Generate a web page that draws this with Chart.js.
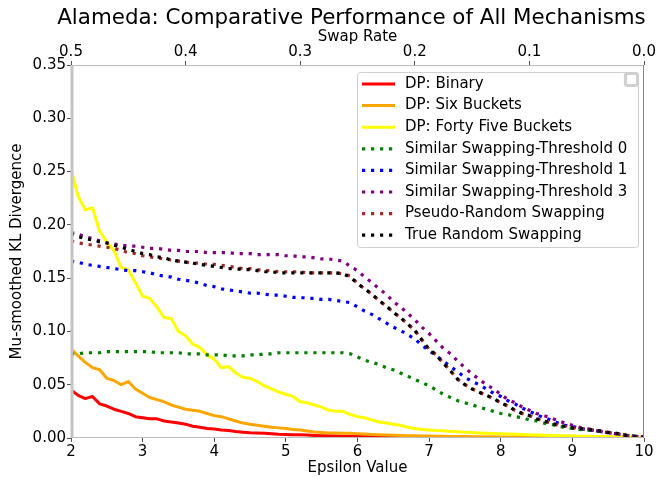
<!DOCTYPE html>
<html>
<head>
<meta charset="utf-8">
<script src="https://cdn.jsdelivr.net/npm/chart.js@4.4.1/dist/chart.umd.min.js"></script>
<style>
  html, body { margin: 0; padding: 0; background: #ffffff; }
  #wrap { width: 660px; height: 478px; }
</style>
</head>
<body>
<div id="wrap"><canvas id="chart" width="660" height="478"></canvas></div>
<script>
// Epsilon grid shared by every series
const epsilon = [
  2.0, 2.1, 2.2, 2.3, 2.4, 2.5, 2.6, 2.7, 2.8, 2.9,
  3.0, 3.1, 3.2, 3.3, 3.4, 3.5, 3.6, 3.7, 3.8, 3.9,
  4.0, 4.1, 4.2, 4.3, 4.4, 4.5, 4.6, 4.7, 4.8, 4.9,
  5.0, 5.1, 5.2, 5.3, 5.4, 5.5, 5.6, 5.7, 5.8, 5.9,
  6.0, 6.1, 6.2, 6.3, 6.4, 6.5, 6.6, 6.7, 6.8, 6.9,
  7.0, 7.1, 7.2, 7.3, 7.4, 7.5, 7.6, 7.7, 7.8, 7.9,
  8.0, 8.1, 8.2, 8.3, 8.4, 8.5, 8.6, 8.7, 8.8, 8.9,
  9.0, 9.1, 9.2, 9.3, 9.4, 9.5, 9.6, 9.7, 9.8, 9.9,
  10.0
];

const dpBinary = [
  0.045, 0.040, 0.037, 0.039, 0.032, 0.030, 0.027, 0.025, 0.023, 0.020,
  0.019, 0.018, 0.018, 0.016, 0.015, 0.014, 0.013, 0.011, 0.010, 0.009,
  0.0085, 0.0075, 0.007, 0.006, 0.0055, 0.005, 0.0047, 0.0045, 0.004, 0.0035,
  0.0032, 0.003, 0.003, 0.0027, 0.0024, 0.0022, 0.002, 0.0018, 0.0016, 0.0015,
  0.0013, 0.0012, 0.0011, 0.001, 0.0009, 0.0008, 0.0007, 0.0007, 0.0006, 0.0006,
  0.0005, 0.0005, 0.0004, 0.0004, 0.0004, 0.0003, 0.0003, 0.0003, 0.0003, 0.0003,
  0.0003, 0.0002, 0.0002, 0.0002, 0.0002, 0.0002, 0.0002, 0.0002, 0.0002, 0.0002,
  0.0002, 0.0001, 0.0001, 0.0001, 0.0001, 0.0001, 0.0001, 0.0001, 0.0001, 0.0001,
  0.0001
];

const dpSixBuckets = [
  0.084, 0.077, 0.071, 0.066, 0.064, 0.056, 0.054, 0.050, 0.053, 0.046,
  0.042, 0.038, 0.036, 0.034, 0.031, 0.029, 0.027, 0.026, 0.025, 0.023,
  0.021, 0.020, 0.018, 0.016, 0.014, 0.013, 0.012, 0.011, 0.010, 0.0095,
  0.009, 0.008, 0.0075, 0.0065, 0.0056, 0.0052, 0.0048, 0.0046, 0.0045, 0.0044,
  0.004, 0.0037, 0.0034, 0.0031, 0.0028, 0.0026, 0.0024, 0.0022, 0.002, 0.0019,
  0.0018, 0.0017, 0.0016, 0.0015, 0.0014, 0.0013, 0.0012, 0.0012, 0.0011, 0.0011,
  0.001, 0.001, 0.0009, 0.0009, 0.0008, 0.0008, 0.0008, 0.0007, 0.0007, 0.0007,
  0.0006, 0.0006, 0.0006, 0.0005, 0.0005, 0.0005, 0.0005, 0.0004, 0.0004, 0.0004,
  0.0004
];

const dpFortyFiveBuckets = [
  0.252, 0.227, 0.214, 0.216, 0.194, 0.184, 0.176, 0.160, 0.158, 0.146,
  0.133, 0.131, 0.123, 0.113, 0.112, 0.100, 0.096, 0.088, 0.085, 0.078,
  0.074, 0.066, 0.067, 0.061, 0.057, 0.056, 0.053, 0.049, 0.046, 0.043,
  0.041, 0.039, 0.034, 0.033, 0.031, 0.029, 0.026, 0.025, 0.025, 0.022,
  0.020, 0.019, 0.017, 0.015, 0.014, 0.013, 0.012, 0.010, 0.009, 0.008,
  0.0075, 0.007, 0.0067, 0.0062, 0.0058, 0.0055, 0.0052, 0.0048, 0.0045, 0.0042,
  0.004, 0.0037, 0.0035, 0.0032, 0.003, 0.0028, 0.0026, 0.0024, 0.0022, 0.002,
  0.0019, 0.0017, 0.0016, 0.0015, 0.0014, 0.0013, 0.0012, 0.0011, 0.001, 0.0009,
  0.0008
];

const similarThreshold0 = [
  0.079, 0.079, 0.080, 0.080, 0.080, 0.081, 0.081, 0.081, 0.081, 0.081,
  0.081, 0.081, 0.080, 0.080, 0.080, 0.080, 0.079, 0.079, 0.079, 0.078,
  0.078, 0.078, 0.077, 0.077, 0.077, 0.078, 0.078, 0.079, 0.079, 0.080,
  0.080, 0.080, 0.080, 0.080, 0.080, 0.080, 0.080, 0.080, 0.080, 0.079,
  0.076, 0.073, 0.071, 0.069, 0.066, 0.064, 0.061, 0.058, 0.055, 0.052,
  0.049, 0.045, 0.041, 0.038, 0.035, 0.033, 0.031, 0.029, 0.027, 0.025,
  0.023, 0.022, 0.020, 0.019, 0.017, 0.016, 0.014, 0.013, 0.011, 0.010,
  0.009, 0.008, 0.0075, 0.0068, 0.006, 0.005, 0.0042, 0.0033, 0.0025, 0.0017,
  0.001
];

const similarThreshold1 = [
  0.166, 0.165, 0.163, 0.162, 0.161, 0.160, 0.159, 0.158, 0.157, 0.157,
  0.156, 0.155, 0.153, 0.152, 0.151, 0.149, 0.148, 0.147, 0.145, 0.143,
  0.142, 0.140, 0.139, 0.138, 0.137, 0.136, 0.136, 0.135, 0.134, 0.134,
  0.133, 0.132, 0.132, 0.131, 0.131, 0.130, 0.130, 0.129, 0.128, 0.127,
  0.123, 0.119, 0.116, 0.112, 0.108, 0.104, 0.101, 0.097, 0.093, 0.087,
  0.082, 0.077, 0.072, 0.067, 0.062, 0.057, 0.053, 0.050, 0.046, 0.042,
  0.039, 0.035, 0.032, 0.028, 0.025, 0.022, 0.019, 0.017, 0.014, 0.012,
  0.011, 0.009, 0.008, 0.007, 0.006, 0.005, 0.004, 0.003, 0.002, 0.0015,
  0.001
];

const similarThreshold3 = [
  0.193, 0.191, 0.189, 0.187, 0.185, 0.183, 0.182, 0.181, 0.180, 0.180,
  0.179, 0.178, 0.178, 0.177, 0.176, 0.176, 0.175, 0.175, 0.175, 0.174,
  0.174, 0.174, 0.174, 0.173, 0.173, 0.173, 0.172, 0.172, 0.172, 0.172,
  0.171, 0.171, 0.170, 0.170, 0.169, 0.168, 0.168, 0.167, 0.166, 0.161,
  0.157, 0.151, 0.146, 0.140, 0.135, 0.128, 0.123, 0.117, 0.111, 0.104,
  0.098, 0.091, 0.084, 0.079, 0.072, 0.066, 0.060, 0.055, 0.050, 0.046,
  0.041, 0.036, 0.033, 0.029, 0.026, 0.023, 0.021, 0.019, 0.016, 0.014,
  0.012, 0.010, 0.009, 0.0075, 0.006, 0.005, 0.004, 0.003, 0.002, 0.0012,
  0.0008
];

const pseudoRandomSwapping = [
  0.185, 0.183, 0.182, 0.181, 0.180, 0.179, 0.178, 0.176, 0.174, 0.173,
  0.171, 0.170, 0.169, 0.168, 0.167, 0.166, 0.165, 0.164, 0.164, 0.163,
  0.163, 0.162, 0.161, 0.160, 0.159, 0.159, 0.158, 0.157, 0.157, 0.156,
  0.156, 0.156, 0.156, 0.155, 0.155, 0.155, 0.155, 0.155, 0.154, 0.152,
  0.145, 0.140, 0.135, 0.129, 0.124, 0.118, 0.113, 0.107, 0.101, 0.092,
  0.083, 0.078, 0.070, 0.063, 0.055, 0.050, 0.046, 0.043, 0.040, 0.037,
  0.033, 0.030, 0.026, 0.023, 0.021, 0.018, 0.016, 0.014, 0.012, 0.011,
  0.0095, 0.0088, 0.008, 0.0075, 0.0065, 0.0052, 0.0047, 0.003, 0.002, 0.0012,
  0.0008
];

const trueRandomSwapping = [
  0.192, 0.189, 0.187, 0.186, 0.184, 0.183, 0.181, 0.179, 0.177, 0.175,
  0.173, 0.172, 0.170, 0.169, 0.167, 0.166, 0.165, 0.164, 0.163, 0.162,
  0.161, 0.160, 0.159, 0.159, 0.158, 0.158, 0.157, 0.156, 0.156, 0.155,
  0.155, 0.155, 0.155, 0.155, 0.155, 0.155, 0.155, 0.155, 0.154, 0.151,
  0.145, 0.140, 0.135, 0.129, 0.124, 0.118, 0.113, 0.107, 0.101, 0.092,
  0.083, 0.078, 0.070, 0.063, 0.055, 0.050, 0.046, 0.043, 0.040, 0.037,
  0.033, 0.030, 0.026, 0.023, 0.021, 0.018, 0.016, 0.014, 0.012, 0.011,
  0.0095, 0.0088, 0.008, 0.0075, 0.0065, 0.0052, 0.0047, 0.003, 0.002, 0.0012,
  0.0008
];

// Tick values
const epsilonTicks = [2, 3, 4, 5, 6, 7, 8, 9, 10];
const swapRateTicks = [0.5, 0.4, 0.3, 0.2, 0.1, 0.0];
const divergenceTicks = [0.00, 0.05, 0.10, 0.15, 0.20, 0.25, 0.30, 0.35];

const chartTitle = 'Alameda: Comparative Performance of All Mechanisms';
const seriesNames = [
  'DP: Binary', 'DP: Six Buckets', 'DP: Forty Five Buckets',
  'Similar Swapping-Threshold 0', 'Similar Swapping-Threshold 1',
  'Similar Swapping-Threshold 3', 'Pseudo-Random Swapping', 'True Random Swapping'
];
const seriesValues = [
  dpBinary, dpSixBuckets, dpFortyFiveBuckets,
  similarThreshold0, similarThreshold1, similarThreshold3,
  pseudoRandomSwapping, trueRandomSwapping
];
const seriesColors = ['#ff0000', '#ffa500', '#ffff00', '#008000', '#0000ff', '#800080', '#a52a2a', '#000000'];
const seriesDotted = [false, false, false, true, true, true, true, true];

const FONT = 'DejaVu Sans';
const DOT = [3.2, 5.8];

const datasets = seriesNames.map((name, i) => ({
  label: name,
  data: epsilon.map((e, k) => ({ x: e, y: seriesValues[i][k] })),
  borderColor: seriesColors[i],
  backgroundColor: seriesColors[i],
  borderWidth: seriesDotted[i] ? 3.2 : 3,
  borderDash: seriesDotted[i] ? DOT : [],
  borderCapStyle: 'butt',
  borderJoinStyle: 'round',
  pointRadius: 0,
  tension: 0,
  fill: false,
  order: seriesNames.length - i,
  xAxisID: 'x',
  yAxisID: 'y'
}));

// Axes frame, heading, and the boxed legend in the upper right of the plot
const framePlugin = {
  id: 'frame',
  afterDatasetsDraw(chart) {
    const { ctx, chartArea: a } = chart;
    ctx.save();
    ctx.lineCap = 'butt';
    ctx.strokeStyle = '#bdbdbd';
    ctx.lineWidth = 1;
    ctx.beginPath();
    ctx.moveTo(a.left, a.top + 0.5); ctx.lineTo(a.right, a.top + 0.5);
    ctx.moveTo(a.left, a.bottom - 0.5); ctx.lineTo(a.right, a.bottom - 0.5);
    ctx.stroke();
    ctx.strokeStyle = '#8a8a8a';
    ctx.beginPath();
    ctx.moveTo(a.right - 0.5, a.top); ctx.lineTo(a.right - 0.5, a.bottom);
    ctx.stroke();
    ctx.strokeStyle = '#c4c4c4';
    ctx.lineWidth = 3;
    ctx.beginPath();
    ctx.moveTo(a.left + 1, a.top); ctx.lineTo(a.left + 1, a.bottom);
    ctx.stroke();
    ctx.restore();
  },
  afterDraw(chart) {
    const { ctx, chartArea: a } = chart;
    ctx.save();
    // heading
    ctx.font = '21.4px "' + FONT + '"';
    ctx.fillStyle = '#000000';
    ctx.textAlign = 'center';
    ctx.textBaseline = 'middle';
    ctx.fillText(chartTitle, (a.left + a.right) / 2 - 6, 18);

    const bx = a.right - 287, by = a.top + 7, bw = 281, bh = 175;
    roundRect(ctx, bx + 0.5, by + 0.5, bw, bh, 3);
    ctx.fillStyle = 'rgba(255,255,255,0.8)';
    ctx.fill();
    ctx.strokeStyle = '#d0d0d0';
    ctx.lineWidth = 1;
    ctx.stroke();
    ctx.font = '15px "' + FONT + '"';
    ctx.textBaseline = 'middle';
    ctx.textAlign = 'left';
    chart.data.datasets.forEach((ds, i) => {
      const cy = by + 12 + i * 21.6;
      ctx.beginPath();
      ctx.strokeStyle = ds.borderColor;
      ctx.lineWidth = ds.borderWidth;
      ctx.setLineDash(ds.borderDash);
      ctx.moveTo(bx + 5, cy); ctx.lineTo(bx + 38, cy);
      ctx.stroke();
      ctx.setLineDash([]);
      ctx.fillStyle = '#000000';
      ctx.fillText(ds.label, bx + 48, cy);
    });
    // empty companion legend frame
    roundRect(ctx, a.right - 18.5, a.top + 8.5, 12, 12, 2);
    ctx.fillStyle = 'rgba(255,255,255,0.8)';
    ctx.fill();
    ctx.strokeStyle = '#d0d0d0';
    ctx.stroke();
    ctx.restore();
  }
};

function roundRect(ctx, x, y, w, h, r) {
  ctx.beginPath();
  ctx.moveTo(x + r, y);
  ctx.lineTo(x + w - r, y);
  ctx.arcTo(x + w, y, x + w, y + r, r);
  ctx.lineTo(x + w, y + h - r);
  ctx.arcTo(x + w, y + h, x + w - r, y + h, r);
  ctx.lineTo(x + r, y + h);
  ctx.arcTo(x, y + h, x, y + h - r, r);
  ctx.lineTo(x, y + r);
  ctx.arcTo(x, y, x + r, y, r);
  ctx.closePath();
}

const tickFont = { family: FONT, size: 15 };
const labelFont = { family: FONT, size: 15, lineHeight: 1 };

new Chart(document.getElementById('chart'), {
  type: 'line',
  data: { datasets },
  plugins: [framePlugin],
  options: {
    responsive: false,
    animation: false,
    layout: { padding: { left: 0, right: 16, top: 28, bottom: 0 } },
    plugins: {
      legend: { display: false },
      tooltip: { enabled: false },
      title: { display: false }
    },
    scales: {
      x: {
        type: 'linear',
        position: 'bottom',
        min: 2, max: 10,
        afterBuildTicks: s => { s.ticks = epsilonTicks.map(v => ({ value: v })); },
        afterFit: s => { s.height = 40; },
        ticks: { color: '#000000', font: tickFont, padding: 1, maxRotation: 0,
                 callback: v => String(v) },
        grid: { drawOnChartArea: false, drawTicks: true, tickLength: 4, tickColor: '#555555' },
        border: { display: false },
        title: { display: true, text: 'Epsilon Value', color: '#000000', font: labelFont,
                 padding: { top: 0, bottom: 2 } }
      },
      x2: {
        type: 'linear',
        position: 'top',
        min: 0, max: 0.5,
        reverse: true,
        afterBuildTicks: s => { s.ticks = swapRateTicks.map(v => ({ value: v })); },
        afterFit: s => { s.height = 37; },
        ticks: { color: '#000000', font: tickFont, padding: 0, maxRotation: 0,
                 callback: v => v.toFixed(1) },
        grid: { drawOnChartArea: false, drawTicks: true, tickLength: 4, tickColor: '#555555' },
        border: { display: false },
        title: { display: true, text: 'Swap Rate', color: '#000000', font: labelFont,
                 padding: { top: 2, bottom: 0 } }
      },
      y: {
        type: 'linear',
        position: 'left',
        min: 0, max: 0.35,
        afterBuildTicks: s => { s.ticks = divergenceTicks.map(v => ({ value: v })); },
        afterFit: s => { s.width = 71; },
        ticks: { color: '#000000', font: tickFont, padding: 1,
                 callback: v => v.toFixed(2) },
        grid: { drawOnChartArea: false, drawTicks: true, tickLength: 4, tickColor: '#555555' },
        border: { display: false },
        title: { display: true, text: 'Mu-smoothed KL Divergence', color: '#000000',
                 font: { family: FONT, size: 15, lineHeight: 1 }, padding: { top: 10, bottom: 0 } }
      }
    }
  }
});
</script>
</body>
</html>
